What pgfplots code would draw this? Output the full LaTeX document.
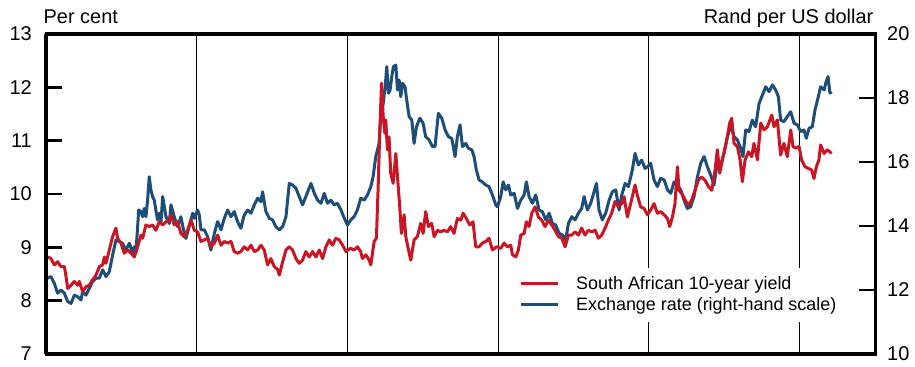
\documentclass[border=0pt]{standalone}
\usepackage{fontspec}
\setmainfont{Liberation Sans}
\usepackage{pgfplots}
\pgfplotsset{compat=1.18}
\usepackage{pgfplotstable}
\definecolor{sared}{RGB}{202,22,36}
\definecolor{sablue}{RGB}{30,78,120}

\pgfplotstableread{
x y
2018.011 8.82
2018.033 8.79
2018.055 8.67
2018.077 8.73
2018.099 8.64
2018.122 8.64
2018.133 8.45
2018.144 8.23
2018.166 8.29
2018.188 8.36
2018.210 8.29
2018.221 8.36
2018.243 8.17
2018.265 8.26
2018.287 8.29
2018.309 8.39
2018.332 8.48
2018.354 8.64
2018.376 8.67
2018.387 8.82
2018.398 8.70
2018.420 8.95
2018.442 9.20
2018.464 9.36
2018.475 9.17
2018.497 9.08
2018.519 8.89
2018.542 8.95
2018.564 8.89
2018.586 8.82
2018.608 9.01
2018.630 9.23
2018.641 9.17
2018.663 9.42
2018.685 9.39
2018.707 9.42
2018.729 9.32
2018.752 9.48
2018.774 9.42
2018.796 9.48
2018.818 9.51
2018.829 9.61
2018.851 9.42
2018.873 9.48
2018.895 9.26
2018.917 9.20
2018.939 9.32
2018.962 9.51
2018.984 9.32
2019.006 9.29
2019.028 9.11
2019.050 9.14
2019.072 9.17
2019.094 9.01
2019.117 9.08
2019.139 9.23
2019.161 9.04
2019.183 9.11
2019.205 9.08
2019.227 9.11
2019.249 8.92
2019.271 8.89
2019.293 8.92
2019.315 9.01
2019.338 8.95
2019.360 9.04
2019.382 8.92
2019.404 8.95
2019.426 9.04
2019.448 8.95
2019.470 8.67
2019.492 8.79
2019.514 8.64
2019.537 8.58
2019.548 8.48
2019.570 8.73
2019.592 8.95
2019.614 9.01
2019.636 8.95
2019.658 8.79
2019.680 8.70
2019.702 8.76
2019.724 8.92
2019.746 8.82
2019.769 8.92
2019.791 8.82
2019.813 8.95
2019.835 8.79
2019.857 9.01
2019.879 9.14
2019.901 9.04
2019.923 9.17
2019.945 9.14
2019.968 9.04
2019.990 8.92
2020.000 8.95
2020.022 8.98
2020.044 8.95
2020.066 9.01
2020.088 8.92
2020.099 8.79
2020.122 8.86
2020.144 8.76
2020.155 8.67
2020.166 8.89
2020.177 9.11
2020.192 9.17
2020.203 10.07
2020.214 11.14
2020.226 12.08
2020.237 11.45
2020.248 11.14
2020.254 11.39
2020.265 10.83
2020.276 11.07
2020.287 10.39
2020.303 10.20
2020.321 10.76
2020.332 10.32
2020.347 9.76
2020.358 9.26
2020.376 9.61
2020.387 9.20
2020.405 8.95
2020.420 8.76
2020.442 9.14
2020.464 9.20
2020.486 9.45
2020.502 9.26
2020.519 9.67
2020.537 9.39
2020.559 9.45
2020.575 9.20
2020.597 9.32
2020.619 9.29
2020.641 9.32
2020.663 9.29
2020.685 9.39
2020.707 9.26
2020.729 9.54
2020.752 9.51
2020.767 9.64
2020.789 9.54
2020.811 9.42
2020.833 9.48
2020.851 9.01
2020.873 9.01
2020.895 9.08
2020.917 9.11
2020.939 9.17
2020.962 8.95
2020.984 9.00
2020.995 9.01
2021.017 8.98
2021.039 9.08
2021.061 9.01
2021.083 9.04
2021.095 8.86
2021.117 8.82
2021.134 8.95
2021.150 9.23
2021.172 9.26
2021.187 9.48
2021.205 9.39
2021.223 9.64
2021.245 9.76
2021.267 9.57
2021.289 9.51
2021.311 9.39
2021.333 9.51
2021.355 9.42
2021.377 9.32
2021.400 9.20
2021.422 9.17
2021.444 9.01
2021.466 9.23
2021.488 9.23
2021.510 9.29
2021.532 9.23
2021.554 9.36
2021.576 9.23
2021.598 9.32
2021.621 9.29
2021.643 9.32
2021.665 9.17
2021.687 9.23
2021.709 9.36
2021.731 9.51
2021.753 9.64
2021.775 9.86
2021.797 9.76
2021.820 9.82
2021.835 9.95
2021.857 9.57
2021.879 9.82
2021.908 10.17
2021.923 9.98
2021.945 9.76
2021.968 9.73
2021.990 9.61
2022.012 9.70
2022.034 9.82
2022.056 9.64
2022.078 9.67
2022.101 9.61
2022.123 9.54
2022.138 9.39
2022.156 9.57
2022.173 9.82
2022.189 10.51
2022.200 10.07
2022.218 10.01
2022.240 9.89
2022.262 9.79
2022.284 9.89
2022.306 10.07
2022.328 10.26
2022.350 10.32
2022.372 10.26
2022.395 10.14
2022.417 10.07
2022.439 10.45
2022.454 10.83
2022.470 10.39
2022.492 10.70
2022.514 10.98
2022.536 11.33
2022.549 11.42
2022.565 10.95
2022.587 10.89
2022.605 10.64
2022.620 10.23
2022.638 10.64
2022.660 10.79
2022.682 10.70
2022.697 10.95
2022.720 10.64
2022.742 11.33
2022.764 11.20
2022.786 11.26
2022.815 11.48
2022.830 11.26
2022.852 11.39
2022.874 10.73
2022.896 10.95
2022.918 10.70
2022.941 11.20
2022.956 10.89
2022.974 10.86
2022.996 10.89
2023.013 10.64
2023.036 10.51
2023.058 10.48
2023.080 10.45
2023.095 10.29
2023.111 10.51
2023.128 10.64
2023.139 10.92
2023.162 10.76
2023.184 10.83
2023.212 10.76
}\yielddata

\pgfplotstableread{
x y
2018.011 12.37
2018.033 12.42
2018.055 12.21
2018.077 11.90
2018.099 12.00
2018.122 11.90
2018.144 11.64
2018.166 11.58
2018.188 11.84
2018.210 11.79
2018.232 11.69
2018.243 11.95
2018.265 11.84
2018.287 12.05
2018.309 12.26
2018.332 12.37
2018.354 12.37
2018.376 12.63
2018.398 12.42
2018.420 12.57
2018.442 13.09
2018.464 13.56
2018.486 13.51
2018.508 13.46
2018.530 13.25
2018.553 13.46
2018.575 13.15
2018.586 13.35
2018.597 13.20
2018.615 14.50
2018.630 14.45
2018.641 14.29
2018.652 14.55
2018.663 14.29
2018.674 14.81
2018.685 15.54
2018.696 15.13
2018.707 14.92
2018.718 14.81
2018.729 14.50
2018.740 14.19
2018.752 14.40
2018.763 14.14
2018.774 14.92
2018.796 14.29
2018.818 14.08
2018.829 14.66
2018.851 14.29
2018.873 13.98
2018.895 14.29
2018.917 13.77
2018.928 13.61
2018.950 13.98
2018.973 14.40
2018.984 14.24
2019.006 14.50
2019.017 14.34
2019.028 13.88
2019.050 13.88
2019.072 13.67
2019.094 13.25
2019.117 13.77
2019.139 14.14
2019.161 13.88
2019.183 14.24
2019.205 14.50
2019.227 14.29
2019.249 14.45
2019.271 14.14
2019.293 13.93
2019.315 14.34
2019.338 14.50
2019.360 14.40
2019.382 14.66
2019.404 14.87
2019.426 14.76
2019.437 15.07
2019.459 14.45
2019.481 14.24
2019.503 14.19
2019.525 13.98
2019.548 13.88
2019.570 13.98
2019.592 14.29
2019.614 15.33
2019.636 15.28
2019.658 15.18
2019.680 14.92
2019.702 14.66
2019.724 14.92
2019.758 15.33
2019.780 15.02
2019.802 14.81
2019.824 14.71
2019.846 15.02
2019.868 14.71
2019.890 14.81
2019.912 14.66
2019.934 14.71
2019.957 14.50
2019.979 14.24
2020.000 14.03
2020.022 14.19
2020.044 14.29
2020.066 14.50
2020.088 14.87
2020.111 14.81
2020.133 14.97
2020.155 15.23
2020.170 15.54
2020.188 16.17
2020.210 16.58
2020.221 17.42
2020.237 17.83
2020.250 18.35
2020.261 18.98
2020.272 18.15
2020.283 18.25
2020.294 18.67
2020.305 18.98
2020.321 19.03
2020.332 18.25
2020.343 18.56
2020.354 18.04
2020.365 18.46
2020.382 18.35
2020.393 17.94
2020.409 17.42
2020.427 17.31
2020.442 16.58
2020.458 17.10
2020.480 17.37
2020.502 17.21
2020.519 16.79
2020.542 16.69
2020.564 16.48
2020.581 16.48
2020.603 17.52
2020.626 17.37
2020.648 17.00
2020.670 16.79
2020.692 16.74
2020.714 16.17
2020.729 16.79
2020.747 17.16
2020.763 16.48
2020.785 16.58
2020.802 16.43
2020.825 16.38
2020.840 16.17
2020.855 15.75
2020.873 15.44
2020.895 15.38
2020.917 15.28
2020.939 15.23
2020.962 14.97
2020.984 14.66
2020.995 14.60
2021.017 14.92
2021.033 15.38
2021.050 15.13
2021.068 15.28
2021.083 14.97
2021.106 15.02
2021.128 14.55
2021.150 14.81
2021.172 14.97
2021.187 15.38
2021.205 14.92
2021.227 14.71
2021.249 14.97
2021.271 14.50
2021.293 14.45
2021.316 14.19
2021.338 14.40
2021.360 14.08
2021.382 14.03
2021.404 13.77
2021.426 13.72
2021.448 13.56
2021.466 14.08
2021.488 14.29
2021.510 14.19
2021.532 14.40
2021.554 14.55
2021.570 14.92
2021.592 14.50
2021.614 14.71
2021.636 15.07
2021.652 15.33
2021.669 14.50
2021.691 14.19
2021.713 14.40
2021.736 14.81
2021.758 15.07
2021.780 15.13
2021.802 14.50
2021.820 14.97
2021.842 15.33
2021.864 15.23
2021.890 15.75
2021.908 16.27
2021.930 15.91
2021.952 16.06
2021.974 15.80
2021.990 15.85
2022.012 15.96
2022.034 15.44
2022.056 15.23
2022.078 15.49
2022.101 15.44
2022.123 15.13
2022.145 15.02
2022.167 15.38
2022.189 15.28
2022.211 15.13
2022.233 14.81
2022.255 14.55
2022.277 14.60
2022.299 14.92
2022.322 15.54
2022.344 15.96
2022.366 16.17
2022.388 15.85
2022.410 15.59
2022.432 15.28
2022.454 16.00
2022.476 15.91
2022.498 16.27
2022.521 16.79
2022.543 17.16
2022.565 16.79
2022.587 16.69
2022.609 16.43
2022.624 16.17
2022.642 17.00
2022.664 16.95
2022.686 17.31
2022.708 17.10
2022.731 17.83
2022.753 18.09
2022.775 18.35
2022.797 18.20
2022.819 18.41
2022.841 18.25
2022.859 18.04
2022.874 17.31
2022.896 17.26
2022.918 17.42
2022.941 17.57
2022.963 17.21
2022.985 17.16
2023.007 16.95
2023.029 17.00
2023.044 16.74
2023.062 17.05
2023.084 17.10
2023.102 17.63
2023.124 18.04
2023.139 18.35
2023.162 18.25
2023.173 18.46
2023.188 18.67
2023.201 18.15
2023.212 18.20
}\randdata

\begin{document}
\begin{tikzpicture}
\path[use as bounding box] (0,0) rectangle (915bp,367bp);
\pgfplotsset{
  common/.style={
    at={(46bp,13bp)}, anchor=south west,
    scale only axis, width=829bp, height=320bp,
    xmin=2018, xmax=2023.5,
    tick align=inside,
    major tick length=16bp,
    tick style={black, line width=2.6bp},
    axis line style={black, line width=3bp},
    tick label style={font=\fontsize{20}{24}\selectfont},
    /pgf/number format/assume math mode=true,
  }
}
\begin{axis}[common,
  ymin=10, ymax=20, ytick={10,12,14,16,18,20},
  ytick pos=right, yticklabel pos=right,
  yticklabel style={inner xsep=0pt, xshift=12bp},
  xtick={2019,2020,2021,2022,2023}, xticklabels={},
  x tick style={draw=none},
  xmajorgrids, major grid style={black, line width=1.1bp},
]
\addplot[sablue, line width=3bp, line join=round] table {\randdata};
\end{axis}
\begin{axis}[common, name=ax,
  ymin=7, ymax=13, ytick={7,8,9,10,11,12,13},
  axis y line*=left, hide x axis,
  yticklabel style={inner xsep=0pt, xshift=-14bp},
  legend style={at={(0.5609,0.26875)}, anchor=north west, draw=none, fill=white,
    inner xsep=8bp, inner ysep=8bp, font=\fontsize{18}{21}\selectfont,
    row sep=4bp, column sep=17bp,
    nodes={inner sep=0pt, text height=13bp, text depth=4bp, anchor=base west}},
  legend cell align=left,
  legend image code/.code={\draw[#1] (0bp,6bp) -- (37bp,6bp);},
]
\addplot[sared, line width=3bp, line join=round] table {\yielddata};
\addlegendentry{South African 10-year yield}
\addlegendimage{sablue, line width=3bp}
\addlegendentry{Exchange rate (right-hand scale)}
\end{axis}
\draw[black, line width=3bp] (ax.south west) rectangle (ax.north east);
\node[anchor=base west, inner sep=0pt, font=\fontsize{20}{24}\selectfont] at ([xshift=-2.5bp, yshift=11bp]ax.north west) {Per cent};
\node[anchor=base east, inner sep=0pt, font=\fontsize{20}{24}\selectfont] at ([xshift=-1.5bp, yshift=11bp]ax.north east) {Rand per US dollar};
\end{tikzpicture}
\end{document}
